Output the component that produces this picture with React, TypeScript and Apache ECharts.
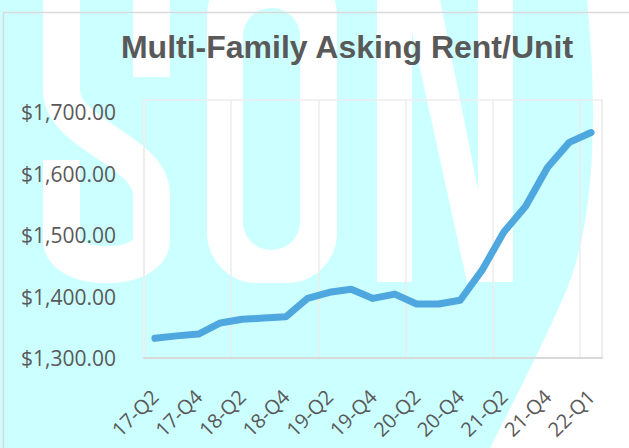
import React, { useEffect, useRef } from "react";
import * as echarts from "echarts";

const categories = [
  "17-Q2", "17-Q3", "17-Q4", "18-Q1", "18-Q2", "18-Q3", "18-Q4",
  "19-Q1", "19-Q2", "19-Q3", "19-Q4", "20-Q1", "20-Q2", "20-Q3",
  "20-Q4", "21-Q1", "21-Q2", "21-Q3", "21-Q4", "21-Q4b", "22-Q1",
];
const rentValues = [
  1332, 1336, 1339, 1357, 1363, 1365, 1367, 1397, 1407, 1412, 1397,
  1404, 1388, 1388, 1394, 1443, 1505, 1547, 1610, 1651, 1667,
];
const titleText = "Multi-Family Asking Rent/Unit";
const yMin = 1300;
const yMax = 1720;
const yStep = 100;

const CYAN = "#ccffff";
const bgPath =
  "M0,0 L587,0 C598,110 596,230 562,300 C545,340 515,400 490,448 L0,448 Z";
const sPath =
  "M61.5,160 L61.5,240 C61.5,273 151.5,273 151.5,240 L151.5,195 C151.5,150 61.5,135 61.5,90 L61.5,-40 C61.5,-86 151.5,-86 151.5,-40 L151.5,77";

echarts.graphic.registerShape("wmBg", echarts.graphic.extendPath(bgPath, {}));
echarts.graphic.registerShape("wmS", echarts.graphic.extendPath(sPath, {}));

export default function App() {
  const ref = useRef<HTMLDivElement>(null);
  useEffect(() => {
    if (!ref.current) return;
    const chart = echarts.init(ref.current, null, { renderer: "svg" });
    const fmt = (v: number) =>
      v % yStep === 0
        ? "$" + v.toLocaleString("en-US", { minimumFractionDigits: 2, maximumFractionDigits: 2 })
        : "";
    chart.setOption({
      animation: false,
      backgroundColor: "#ffffff",
      graphic: [
        { type: "wmBg", z: -20, style: { fill: CYAN } },
        { type: "wmS", z: -19, style: { fill: "none", stroke: "#ffffff", lineWidth: 37 } },
        { type: "rect", z: -19, shape: { x: 207, y: -35, width: 130, height: 318, r: 50 }, style: { fill: "#ffffff" } },
        { type: "rect", z: -18, shape: { x: 243, y: 8, width: 57, height: 242, r: 28 }, style: { fill: CYAN } },
        { type: "rect", z: -19, shape: { x: 377, y: -35, width: 136, height: 317 }, style: { fill: "#ffffff" } },
        { type: "polygon", z: -18, shape: { points: [[412, 32], [412, 282], [467, 282]] }, style: { fill: CYAN } },
        { type: "polygon", z: -18, shape: { points: [[433, -35], [478, -35], [478, 190]] }, style: { fill: CYAN } },
        {
          type: "rect", z: -10,
          shape: { x: 3.5, y: 12.5, width: 700, height: 500 },
          style: { fill: "none", stroke: "#d9d9d9", lineWidth: 1.5 },
        },
        {
          type: "text", z: 10, x: 347, y: 47,
          style: {
            text: titleText, fill: "#595959", fontSize: 32, fontWeight: "bold",
            fontFamily: "Liberation Sans, Arial, sans-serif",
            textAlign: "center", textVerticalAlign: "middle",
          },
        },
      ],
      grid: {
        left: 144, top: 100, width: 458, height: 258,
        show: true, borderColor: "#eeeeee", borderWidth: 1.5,
        containLabel: false,
      },
      xAxis: {
        type: "category",
        data: categories,
        boundaryGap: true,
        axisLine: { show: true, lineStyle: { color: "#d9d9d9", width: 2 } },
        axisTick: { show: false },
        splitLine: { show: true, interval: 3, lineStyle: { color: "#ececec", width: 1.5 } },
        axisLabel: {
          interval: 1, rotate: 45, margin: 35, color: "#595959",
          fontSize: 20, fontFamily: "Open Sans, sans-serif",
        },
      },
      yAxis: {
        type: "value",
        min: yMin, max: yMax, interval: yStep,
        axisLine: { show: false },
        axisTick: { show: false },
        splitLine: { show: false },
        axisLabel: {
          margin: 28, color: "#595959", fontSize: 21,
          fontFamily: "Open Sans, sans-serif", formatter: fmt,
        },
      },
      series: [
        {
          type: "line",
          data: rentValues,
          symbol: "none",
          lineStyle: { color: "#4fa7df", width: 7, cap: "round", join: "round" },
          z: 5,
        },
      ],
    });
    return () => chart.dispose();
  }, []);
  return (
    <div
      ref={ref}
      style={{ position: "fixed", left: 0, top: 0, width: 629, height: 448 }}
    />
  );
}
